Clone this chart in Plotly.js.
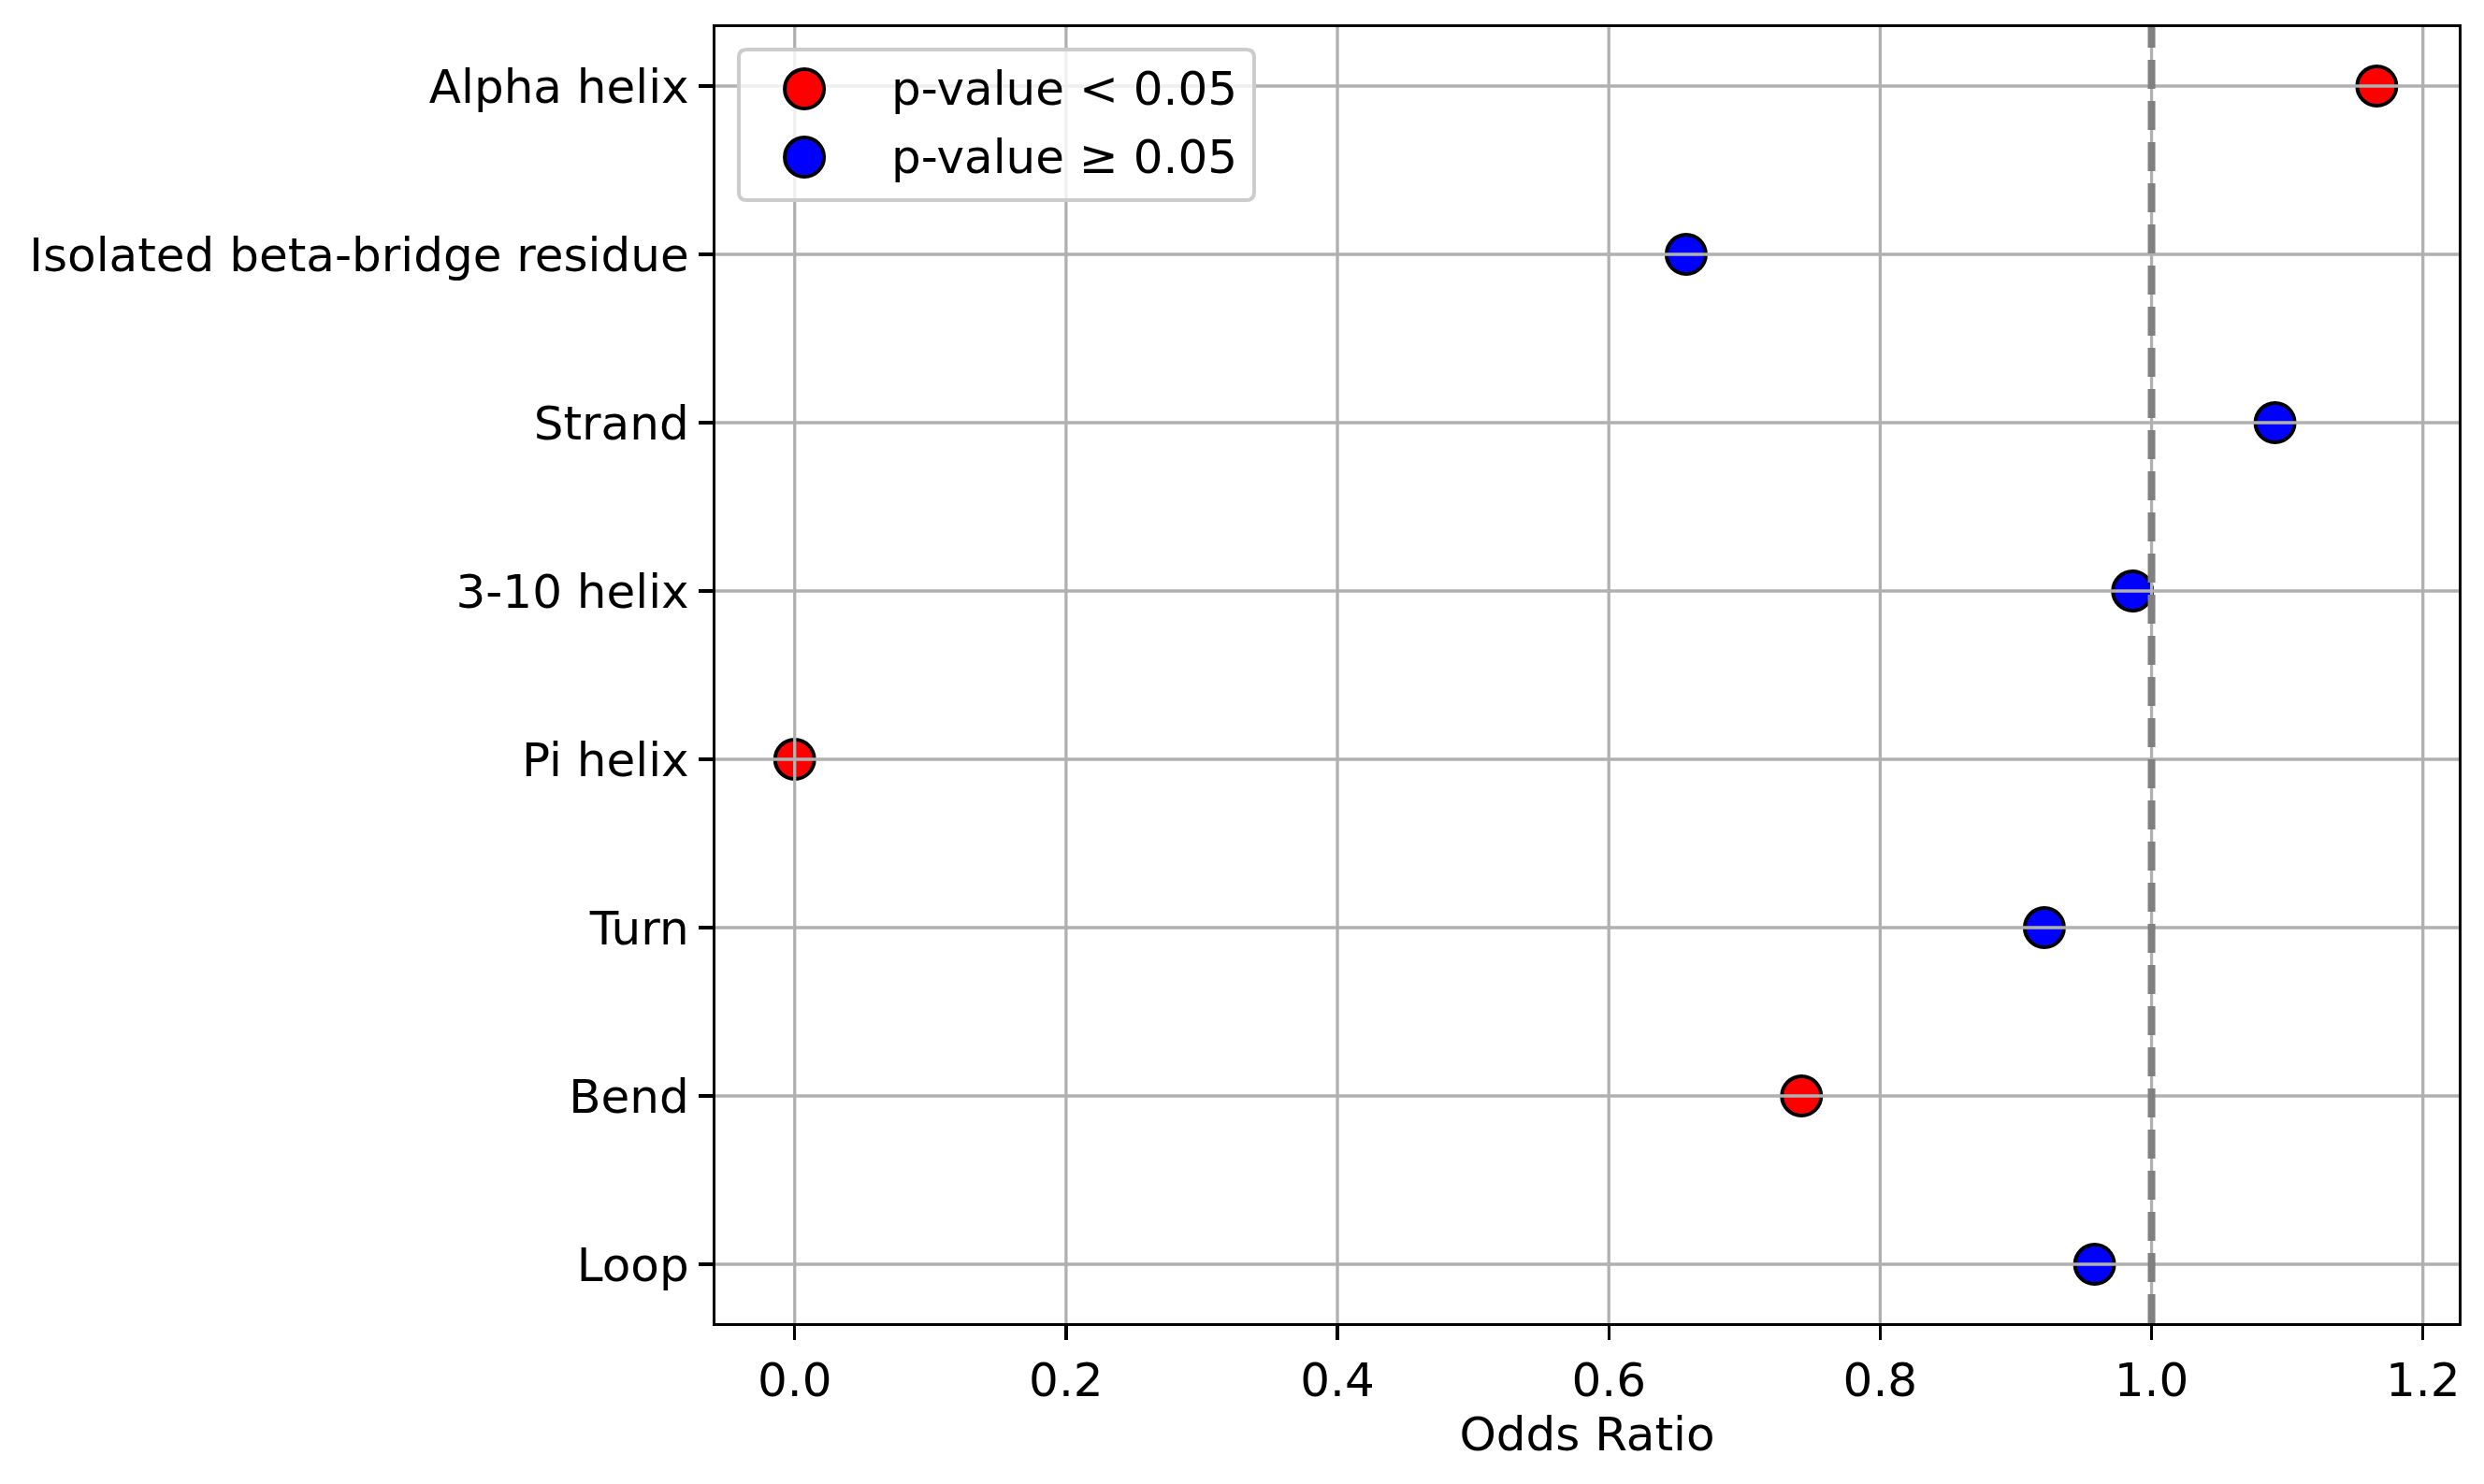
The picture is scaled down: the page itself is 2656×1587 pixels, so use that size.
<!DOCTYPE html>
<html>
<head>
<meta charset="utf-8">
<script src="https://cdn.plot.ly/plotly-3.0.1.min.js"></script>
<style>
  html, body { margin: 0; padding: 0; background: #fff; }
  #chart { width: 2656px; height: 1587px; }
</style>
</head>
<body>
<div id="chart"></div>
<script>
// categories top to bottom
const categories = [
  "Alpha helix",
  "Isolated beta-bridge residue",
  "Strand",
  "3-10 helix",
  "Pi helix",
  "Turn",
  "Bend",
  "Loop",
];
const oddsRatios = [1.166, 0.657, 1.091, 0.986, 0.0, 0.921, 0.742, 0.958];
const significant = [true, false, false, false, true, false, true, false];

const xTicks = [0.0, 0.2, 0.4, 0.6, 0.8, 1.0, 1.2];
const xTickText = ["0.0", "0.2", "0.4", "0.6", "0.8", "1.0", "1.2"];
const refLine = 1.0;
const legendLabels = ["p-value < 0.05", "p-value \u2265 0.05"];
const legendColors = ["red", "blue"];

const FONT = "DejaVu Sans, Liberation Sans, sans-serif";
const GRID = "#b0b0b0";

function pick(flag) {
  var xs = [];
  var ys = [];
  for (let i = 0; i < categories.length; i++) {
    if (significant[i] === flag) {
      xs.push(oddsRatios[i]);
      ys.push(categories[i]);
    }
  }
  return { x: xs, y: ys };
}

var sig = pick(true);
var nonsig = pick(false);

var data = [
  {
    name: legendLabels[0],
    x: sig.x,
    y: sig.y,
    mode: "markers",
    type: "scatter",
    marker: { color: legendColors[0], size: 42, line: { color: "black", width: 4 } },
    showlegend: false,
    cliponaxis: false,
  },
  {
    name: legendLabels[1],
    x: nonsig.x,
    y: nonsig.y,
    mode: "markers",
    type: "scatter",
    marker: { color: legendColors[1], size: 42, line: { color: "black", width: 4 } },
    showlegend: false,
    cliponaxis: false,
  },
];

// grid drawn over the markers, like the original
var shapes = [];
xTicks.forEach((t) => {
  shapes.push({
    type: "line", layer: "above", xref: "x", yref: "paper",
    x0: t, x1: t, y0: 0, y1: 1,
    line: { color: GRID, width: 3.3 },
  });
});
categories.forEach((c, i) => {
  shapes.push({
    type: "line", layer: "above", xref: "paper", yref: "y",
    x0: 0, x1: 1, y0: i, y1: i,
    line: { color: GRID, width: 3.3 },
  });
});
// reference line at odds ratio 1
shapes.push({
  type: "line", layer: "above", xref: "x", yref: "paper",
  x0: refLine, x1: refLine, y0: 0, y1: 1,
  line: { color: "#808080", width: 8, dash: "31px,13px" },
});

// legend box (upper left), rounded corners
var lx0 = 0.0134, lx1 = 0.309, ly0 = 0.8665, ly1 = 0.9827;
var rx = 0.0045, ry = 0.006;
shapes.push({
  type: "path", layer: "above", xref: "paper", yref: "paper",
  path:
    "M" + (lx0 + rx) + "," + ly1 +
    " L" + (lx1 - rx) + "," + ly1 +
    " Q" + lx1 + "," + ly1 + " " + lx1 + "," + (ly1 - ry) +
    " L" + lx1 + "," + (ly0 + ry) +
    " Q" + lx1 + "," + ly0 + " " + (lx1 - rx) + "," + ly0 +
    " L" + (lx0 + rx) + "," + ly0 +
    " Q" + lx0 + "," + ly0 + " " + lx0 + "," + (ly0 + ry) +
    " L" + lx0 + "," + (ly1 - ry) +
    " Q" + lx0 + "," + ly1 + " " + (lx0 + rx) + "," + ly1 + " Z",
  fillcolor: "rgba(255,255,255,0.8)",
  line: { color: "#cccccc", width: 4 },
});

var legendY = [0.9524, 0.8997];
var annotations = [];
legendLabels.forEach((lab, k) => {
  shapes.push({
    type: "circle", layer: "above", xref: "paper", yref: "paper",
    xsizemode: "pixel", ysizemode: "pixel",
    xanchor: 0.051, yanchor: legendY[k],
    x0: -21, x1: 21, y0: -21, y1: 21,
    fillcolor: legendColors[k],
    line: { color: "black", width: 4 },
  });
  annotations.push({
    xref: "paper", yref: "paper",
    x: 0.0998, y: legendY[k],
    xanchor: "left", yanchor: "middle",
    text: lab, showarrow: false,
    font: { family: FONT, size: 50, color: "black" },
  });
});

var layout = {
  width: 2656,
  height: 1587,
  margin: { l: 765, r: 27, t: 29, b: 172 },
  paper_bgcolor: "white",
  plot_bgcolor: "white",
  font: { family: FONT, size: 50, color: "black" },
  showlegend: false,
  xaxis: {
    range: [-0.0584, 1.2264],
    tickvals: xTicks,
    ticktext: xTickText,
    showgrid: false,
    zeroline: false,
    showline: true,
    mirror: true,
    linecolor: "black",
    linewidth: 3.3,
    ticks: "outside",
    ticklen: 15,
    tickwidth: 3.3,
    tickcolor: "black",
    tickfont: { family: FONT, size: 50, color: "black" },
    title: { text: "Odds Ratio", font: { family: FONT, size: 50, color: "black" }, standoff: 12 },
    automargin: false,
  },
  yaxis: {
    type: "category",
    categoryorder: "array",
    categoryarray: categories,
    range: [7.35, -0.35],
    showgrid: false,
    zeroline: false,
    showline: true,
    mirror: true,
    linecolor: "black",
    linewidth: 3.3,
    ticks: "outside",
    ticklen: 15,
    tickwidth: 3.3,
    tickcolor: "black",
    tickfont: { family: FONT, size: 50, color: "black" },
    automargin: false,
  },
  shapes: shapes,
  annotations: annotations,
};

Plotly.newPlot("chart", data, layout, { staticPlot: true, displayModeBar: false });
</script>
</body>
</html>
